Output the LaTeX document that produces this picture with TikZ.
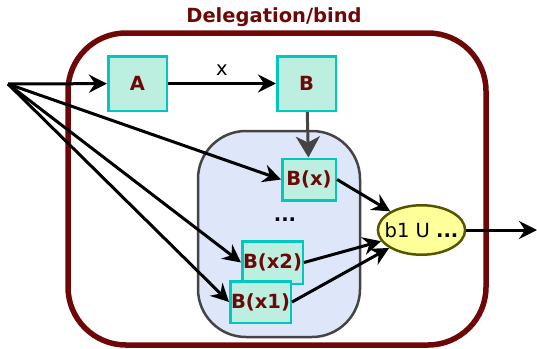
\documentclass[tikz,border=0pt]{standalone}
\usepackage{fontspec}
\setmainfont{DejaVu Sans}
\usetikzlibrary{arrows.meta,positioning,calc,shapes.geometric}
\definecolor{darkred}{RGB}{110,8,8}
\definecolor{mint}{RGB}{189,239,225}
\definecolor{boxline}{RGB}{0,200,190}
\definecolor{paleblue}{RGB}{222,230,250}
\definecolor{frameline}{RGB}{68,68,68}
\definecolor{lemon}{RGB}{255,255,153}
\definecolor{unionline}{RGB}{85,85,0}
\newcommand{\labelsize}{\fontsize{19.5}{22}\selectfont}
\tikzstyle{fnbox}=[draw=boxline,fill=mint,line width=2.5pt,text=darkred,font=\labelsize\bfseries,inner sep=0pt]
\tikzstyle{setnode}=[draw=unionline,fill=lemon,ellipse,line width=2.5pt,inner xsep=-6pt,inner ysep=0pt,minimum width=80.5pt,minimum height=49.5pt]
\tikzstyle{flow}=[-{Stealth[length=18pt,width=18pt,inset=6pt]},line width=3pt]

\begin{document}
\begin{tikzpicture}[x=1pt,y=-1pt,font=\labelsize]
\useasboundingbox (0,0) rectangle (537,348);
\node[font=\labelsize\bfseries,text=darkred] (title) at (274,17) {Delegation/bind};
\draw[darkred,line width=5.5pt,rounded corners=58pt] (68,33) rectangle (486,345);
\draw[frameline,fill=paleblue,line width=2.5pt,rounded corners=48pt] (198,131) rectangle (360,337);
\coordinate (in) at (8,84);
\coordinate (out) at (537,230);
\node[fnbox,minimum width=58.5pt,minimum height=54.5pt] (A) at (137.5,83.5) {A};
\node[fnbox,minimum width=58.5pt,minimum height=54.5pt] (B) at (306.5,83.5) {B};
\node[fnbox,minimum width=53.5pt,minimum height=41.5pt] (Bx) at (309,179.5) {B(x)};
\node (dots) at (285,220) {\bfseries ...};
\node[fnbox,minimum width=60.5pt,minimum height=42.5pt] (Bx2) at (272.5,262.5) {B(x2)};
\node[fnbox,minimum width=60.5pt,minimum height=41.5pt] (Bx1) at (260.5,302) {B(x1)};
\node[setnode] (merge) at (421.5,230) {b1 U \textbf{...}};
\draw[flow] (in) -- (A);
\draw[flow] (A) -- node[above=3pt] {x} (B);
\draw[flow,frameline,-{Stealth[length=21pt,width=24pt,inset=6pt]}] (B) -- (Bx);
\draw[flow] (in) -- (Bx.west);
\draw[flow] (in) -- (Bx2.west);
\draw[flow] (in) -- (Bx1.west);
\draw[flow] (Bx.east) -- (merge);
\draw[flow] (Bx2.east) -- (merge);
\draw[flow] (Bx1.east) -- (merge);
\draw[flow] (merge) -- (out);
\end{tikzpicture}
\end{document}
